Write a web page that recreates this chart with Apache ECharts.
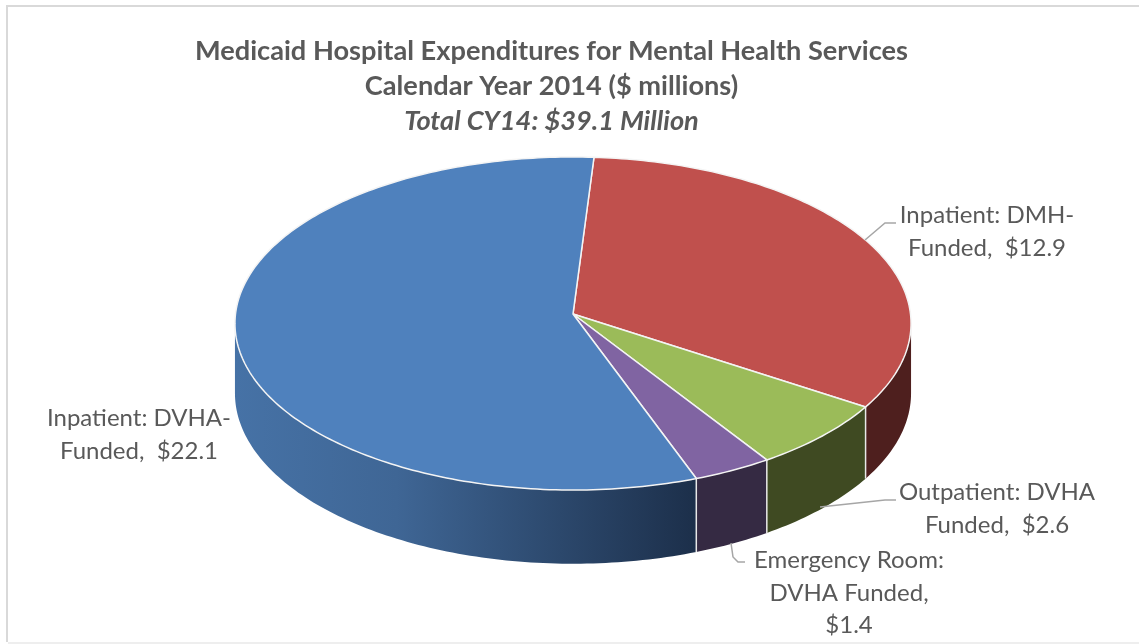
<!DOCTYPE html>
<html><head><meta charset="utf-8">
<style>html,body{margin:0;padding:0;background:#fff}#c{width:1139px;height:644px}</style>
<script src="https://cdn.jsdelivr.net/npm/echarts@6/dist/echarts.min.js"></script>
</head><body><div id="c"></div>
<script>
const categories = ['Inpatient: DMH-Funded','Outpatient: DVHA Funded','Emergency Room: DVHA Funded','Inpatient: DVHA-Funded'];
const values = [12.9, 2.6, 1.4, 22.1];
const labelTexts = ['Inpatient: DMH-\nFunded,  $12.9','Outpatient: DVHA\nFunded,  $2.6','Emergency Room:\nDVHA Funded,\n$1.4','Inpatient: DVHA-\nFunded,  $22.1'];
const titleLines = ['Medicaid Hospital Expenditures for Mental Health Services','Calendar Year 2014 ($ millions)','Total CY14: $39.1 Million'];
const topColors = ['#c0504d','#9bbb59','#8064a2','#4f81bd'];
const wallColors = [['#4e1f1e','#4e1f1e'],['#3f4a22','#3f4a22'],['#352a43','#352a43'],['#4672a6','#1c2f4a']];
const labelPos = [[987,232],[997,509],[849,593],[139,435]];
const leaders = [
  [[865,240],[885,223],[896,223]],
  [[820,507],[885,500],[896,500]],
  [[731,543],[733,557],[738,562],[745,562]],
  null
];
const FONT = 'Lato, "Open Sans", sans-serif';
const INK = '#595959';

// perspective projection of the pie disc
const CX = 573, CY = 314, A = 337.5, B = 166, K = 0.057, DEPTH = 69.5, START = 3.77;
const total = values.reduce((s, v) => s + v, 0);
const rad = d => d * Math.PI / 180;
function pt(theta, r, d) {
  const u = r * Math.sin(rad(theta)), v = r * Math.cos(rad(theta)), w = 1 + K * v;
  return [CX + A * u / w, CY + (-B * v + d) / w];
}
function sweep(i) {
  let a = START;
  for (let j = 0; j < i; j++) a += values[j] / total * 360;
  return [a, a + values[i] / total * 360];
}
function arc(a, b, d) {
  const pts = [], n = Math.max(2, Math.ceil(Math.abs(b - a)));
  for (let k = 0; k <= n; k++) pts.push(pt(a + (b - a) * k / n, 1, d));
  return pts;
}
const FRONT_MIN = 93.3, FRONT_MAX = 266.7;

function renderWall(params, api) {
  const i = params.dataIndex;
  const [a, b] = sweep(i);
  const lo = Math.max(a, FRONT_MIN), hi = Math.min(b, FRONT_MAX);
  if (lo >= hi) return { type: 'group', children: [] };
  const children = [{
    type: 'polygon',
    shape: { points: arc(lo, hi, 0).concat(arc(hi, lo, DEPTH)) },
    style: { fill: new echarts.graphic.LinearGradient(0, 0, 1, 0, [
      { offset: 0, color: wallColors[i][0] },
      { offset: 0.35, color: i === 3 ? '#3f6695' : wallColors[i][0] },
      { offset: 1, color: wallColors[i][1] }]) }
  }];
  if (a >= FRONT_MIN && a <= FRONT_MAX) {
    const p = pt(a, 1, 0), q = pt(a, 1, DEPTH);
    children.push({ type: 'line', shape: { x1: p[0], y1: p[1], x2: q[0], y2: q[1] }, style: { stroke: '#e8e8e8', lineWidth: 1.5 } });
  }
  return { type: 'group', children };
}
function renderTop(params, api) {
  const i = params.dataIndex;
  const [a, b] = sweep(i);
  return { type: 'polygon',
    shape: { points: [[CX, CY]].concat(arc(a, b, 0)) },
    style: { fill: topColors[i], stroke: '#f4f4f4', lineWidth: 1.5, lineJoin: 'round' } };
}
function renderLabel(params, api) {
  const i = params.dataIndex;
  const children = [{ type: 'text', style: {
    text: labelTexts[i], x: labelPos[i][0], y: labelPos[i][1], align: 'center', verticalAlign: 'middle',
    font: '24px ' + FONT, fill: INK, lineHeight: 32.5 } }];
  if (leaders[i]) children.push({ type: 'polyline', shape: { points: leaders[i] }, style: { stroke: '#a6a6a6', lineWidth: 1.5, fill: 'none' } });
  return { type: 'group', children };
}
const seriesData = categories.map((name, i) => ({ name, value: values[i] }));
const chart = echarts.init(document.getElementById('c'), null, { renderer: 'canvas' });
chart.setOption({
  animation: false,
  backgroundColor: '#fff',
  title: {
    text: '{a|' + titleLines[0] + '}\n{a|' + titleLines[1] + '}\n{b|' + titleLines[2] + '}',
    left: 546.5, top: 29, textAlign: 'center',
    textStyle: { rich: {
      a: { fontFamily: FONT, fontSize: 27.2, fontWeight: 'bold', color: INK, lineHeight: 35 },
      b: { fontFamily: FONT, fontSize: 27.2, fontWeight: 'bold', fontStyle: 'italic', color: INK, lineHeight: 35 }
    } }
  },
  graphic: [
    { type: 'polyline', silent: true, shape: { points: [[1139,6],[7,6],[7,642]] }, style: { stroke: '#d9d9d9', lineWidth: 2, fill: 'none' } },
    { type: 'line', silent: true, shape: { x1: 8, y1: 643, x2: 1139, y2: 643 }, style: { stroke: '#eeeeee', lineWidth: 2 } }
  ],
  series: [
    { type: 'custom', coordinateSystem: 'none', renderItem: renderWall, data: seriesData, silent: true, z: 1 },
    { type: 'custom', coordinateSystem: 'none', renderItem: renderTop, data: seriesData, silent: true, z: 2 },
    { type: 'custom', coordinateSystem: 'none', renderItem: renderLabel, data: seriesData, silent: true, z: 3 }
  ]
});
</script></body></html>
